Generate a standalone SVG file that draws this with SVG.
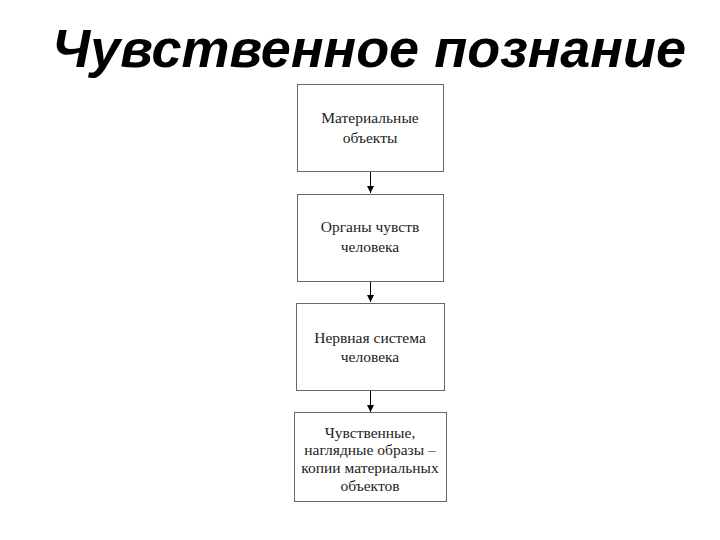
<svg xmlns="http://www.w3.org/2000/svg" width="720" height="540" viewBox="0 0 720 540">
<defs>
<marker id="ah" markerWidth="8" markerHeight="8" refX="7" refY="4" orient="auto" markerUnits="userSpaceOnUse">
<path d="M0,0.5 L7,4 L0,7.5 Z" fill="#000"/>
</marker>
<style>
.box{fill:#fff;stroke:#666;stroke-width:1}
.t{font-family:"Liberation Serif","Times New Roman",serif;font-size:15.5px;fill:#222;text-anchor:middle}
.title{font-family:"Liberation Sans",Arial,sans-serif;font-size:54px;font-weight:bold;font-style:italic;fill:#000;text-anchor:middle}
.c{stroke:#000;stroke-width:1;fill:none;marker-end:url(#ah)}
</style>
</defs>
<rect width="720" height="540" fill="#fff"/>
<text class="title" x="369" y="67">Чувственное познание</text>
<g id="connectors">
<line class="c" x1="370.5" y1="171" x2="370.5" y2="193"/>
<line class="c" x1="370.5" y1="282" x2="370.5" y2="302"/>
<line class="c" x1="370.5" y1="391" x2="370.5" y2="412"/>
</g>
<g id="n1">
<rect class="box" x="297.5" y="84.5" width="146" height="87"/>
<text class="t" x="370" y="123">Материальные</text>
<text class="t" x="370" y="143">объекты</text>
</g>
<g id="n2">
<rect class="box" x="297.5" y="194.5" width="146" height="87"/>
<text class="t" x="370" y="232">Органы чувств</text>
<text class="t" x="370" y="252">человека</text>
</g>
<g id="n3">
<rect class="box" x="296.5" y="303.5" width="148" height="87"/>
<text class="t" x="370" y="343">Нервная система</text>
<text class="t" x="370" y="362">человека</text>
</g>
<g id="n4">
<rect class="box" x="294.5" y="412.5" width="152" height="89"/>
<text class="t" x="370" y="438">Чувственные,</text>
<text class="t" x="370" y="455">наглядные образы –</text>
<text class="t" x="370" y="473">копии материальных</text>
<text class="t" x="370" y="491">объектов</text>
</g>
</svg>
